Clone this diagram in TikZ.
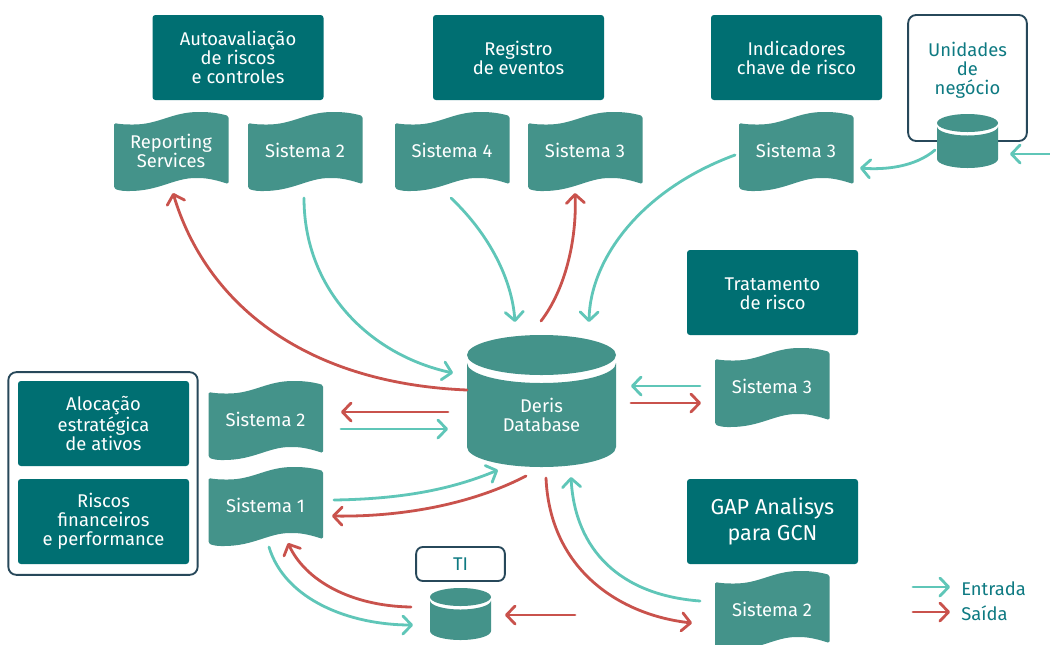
\documentclass[tikz,border=0pt]{standalone}
\usepackage{fontspec}
\setmainfont{Fira Sans}
\usetikzlibrary{arrows.meta}
\definecolor{boxteal}{HTML}{006F72}
\definecolor{docgreen}{HTML}{44938A}
\definecolor{inarrow}{HTML}{5FC6B8}
\definecolor{outarrow}{HTML}{C9524C}
\definecolor{frameblue}{HTML}{27485A}
\definecolor{labelteal}{HTML}{0E7A82}
\tikzset{
  basefont/.style={font=\fontsize{13.8}{14.25}\selectfont,align=center,inner sep=0pt},
  titlebox/.style={basefont,fill=boxteal,text=white,rounded corners=2.2pt,inner sep=0pt,minimum width=128.25pt,minimum height=63.75pt},
  bigtitle/.style={font=\fontsize{16.2}{20}\selectfont},
  framebox/.style={draw=frameblue,line width=1.4pt,rounded corners=6pt,fill=white,inner sep=0pt},
  doctext/.style={basefont,text=white},
  lbl/.style={basefont,text=labelteal},
  docfill/.style={fill=docgreen,rounded corners=1.2pt},
  inflow/.style={draw=inarrow,line width=2.1pt,line cap=round,-{Straight Barb[length=6.5pt,width=13.5pt,line width=2.1pt,round]}},
  outflow/.style={draw=outarrow,line width=2.1pt,line cap=round,-{Straight Barb[length=6.5pt,width=13.5pt,line width=2.1pt,round]}},
}
% name, left x, peak y, text
\newcommand{\wavedoc}[4]{%
  \fill[docfill,shift={(#2,#3)}] (0,12) .. controls (5,13) and (10,13.5) .. (18,13.5) .. controls (45,13.5) and (58,1) .. (86,1) .. controls (98,1) and (108,3) .. (114.5,5)
    -- (114.5,73) .. controls (105,70) and (95,67) .. (83,67) .. controls (60,67) and (45,80) .. (14,80) .. controls (8,80) and (3,79) .. (0,77) -- cycle;
  \node[doctext] (#1) at ([shift={(57,39.5)}]#2,#3) {#4};
}
% name, left, right, top centre y, bottom centre y, ry, gap
\newcommand{\cyl}[7]{%
  \pgfmathsetmacro{\cylrx}{(#3-#2)/2}
  \pgfmathsetmacro{\cylmx}{(#3+#2)/2}
  \pgfmathsetmacro{\cylby}{#4+#7}
  \pgfmathsetmacro{\cylmy}{(#4+#5)/2}
  \fill[docgreen] (\cylmx,#4) ellipse[x radius=\cylrx,y radius=#6];
  \fill[docgreen] (#2,\cylby) arc[start angle=180,end angle=0,x radius=\cylrx,y radius=#6]
     -- (#3,#5) arc[start angle=0,end angle=180,x radius=\cylrx,y radius=#6] -- cycle;
  \coordinate (#1) at (\cylmx,\cylmy);
}
\begin{document}
\begin{tikzpicture}[x=0.75pt,y=-0.75pt]
\path[use as bounding box,clip] (0,0) rectangle (1050,644);
\fill[white] (0,0) rectangle (1050,644);

% frames
\node[framebox,minimum width=142pt,minimum height=152pt] (leftframe) at (103,473.5) {};
\node[framebox,minimum width=89pt,minimum height=94.5pt] (unitframe) at (967.5,78) {};
\node[lbl,anchor=north] (unitlabel) at (967.5,42) {Unidades\\de\\negócio};
\node[framebox,minimum width=66.5pt,minimum height=25.5pt,rounded corners=5pt,text=labelteal,font=\fontsize{13.8}{14.25}\selectfont] (tibox) at (460.5,564) {TI};

% title boxes
\node[titlebox] (auto) at (238,57.5) {Autoavaliação\\de riscos\\e controles};
\node[titlebox] (registro) at (518.5,57.5) {Registro\\de eventos};
\node[titlebox] (indic) at (796.5,57.5) {Indicadores\\chave de risco};
\node[titlebox] (trat) at (772.5,292.5) {};
\node[doctext] (trattext) at (772.5,294) {Tratamento\\de risco};
\node[titlebox,bigtitle] (gap) at (772.5,521.5) {GAP Analisys\\para GCN};
\node[titlebox] (aloc) at (103.5,423.5) {Alocação\\estratégica\\de ativos};
\node[titlebox] (riscos) at (103.5,521.5) {Riscos\\financeiros\\e performance};

% documents
\wavedoc{rs}{114}{111}{Reporting\\Services}
\wavedoc{s2top}{248}{111}{Sistema 2}
\wavedoc{s4}{395}{111}{Sistema 4}
\wavedoc{s3a}{528}{111}{Sistema 3}
\wavedoc{s3b}{739}{111}{Sistema 3}
\wavedoc{s3c}{715}{347}{Sistema 3}
\wavedoc{s2left}{208.5}{380}{Sistema 2}
\wavedoc{s1}{208.5}{466}{Sistema 1}
\wavedoc{s2bot}{715}{570}{Sistema 2}

% cylinders
\cyl{db}{467}{616}{355}{447}{20}{8}
\node[doctext] (dbtext) at (541.5,415) {Deris\\Database};
\cyl{unitdb}{937}{998}{123}{159}{9}{3.5}
\cyl{tidb}{430}{491}{597}{631}{9}{3.5}

% connector ends
\coordinate (a1s) at (467,390);   \coordinate (a1e) at (173,193);
\coordinate (a2s) at (304,198);   \coordinate (a2e) at (453,373);
\coordinate (a3s) at (451,198);   \coordinate (a3e) at (515,322);
\coordinate (a4s) at (541,321);   \coordinate (a4e) at (575,193);
\coordinate (a5s) at (735,155);   \coordinate (a5e) at (589,322);
\coordinate (a6s) at (935,150);   \coordinate (a6e) at (860,168);
\coordinate (a7s) at (1050,154);  \coordinate (a7e) at (1010,154);
\coordinate (a8s) at (700,386);   \coordinate (a8e) at (631,386);
\coordinate (a9s) at (631,403);   \coordinate (a9e) at (701,403);
\coordinate (a10s) at (448,412);  \coordinate (a10e) at (341,412);
\coordinate (a11s) at (341,429);  \coordinate (a11e) at (448,429);
\coordinate (a12s) at (334,500);  \coordinate (a12e) at (498,470);
\coordinate (a13s) at (526,476);  \coordinate (a13e) at (332,516);
\coordinate (a14s) at (269,547);  \coordinate (a14e) at (413,625);
\coordinate (a15s) at (411,607);  \coordinate (a15e) at (288,543);
\coordinate (a16s) at (575,615);  \coordinate (a16e) at (505,615);
\coordinate (a17s) at (546,478);  \coordinate (a17e) at (692,623);
\coordinate (a18s) at (700,601);  \coordinate (a18e) at (571,477);
\coordinate (k1s) at (913,587);   \coordinate (k1e) at (950,587);
\coordinate (k2s) at (913,612);   \coordinate (k2e) at (950,612);

\draw[outflow] (a1s) .. controls (300,383) and (205,300) .. (a1e);
\draw[inflow] (a2s) .. controls (304,290) and (370,355) .. (a2e);
\draw[inflow] (a3s) .. controls (490,235) and (512,280) .. (a3e);
\draw[outflow] (a4s) .. controls (565,290) and (577,240) .. (a4e);
\draw[inflow] (a5s) .. controls (640,190) and (590,260) .. (a5e);
\draw[inflow] (a6s) .. controls (915,167) and (885,170) .. (a6e);
\draw[inflow] (a7s) -- (a7e);
\draw[inflow] (a8s) -- (a8e);
\draw[outflow] (a9s) -- (a9e);
\draw[outflow] (a10s) -- (a10e);
\draw[inflow] (a11s) -- (a11e);
\draw[inflow] (a12s) .. controls (400,499) and (450,490) .. (a12e);
\draw[outflow] (a13s) .. controls (470,505) and (400,517) .. (a13e);
\draw[inflow] (a14s) .. controls (285,600) and (350,625) .. (a14e);
\draw[outflow] (a15s) .. controls (350,606) and (305,580) .. (a15e);
\draw[outflow] (a16s) -- (a16e);
\draw[outflow] (a17s) .. controls (550,570) and (620,615) .. (a17e);
\draw[inflow] (a18s) .. controls (620,595) and (575,550) .. (a18e);

% legend
\draw[inflow] (k1s) -- (k1e);
\draw[outflow] (k2s) -- (k2e);
\node[lbl,anchor=west] (kin) at (961,588.5) {Entrada};
\node[lbl,anchor=west] (kout) at (961,613) {Saída};
\end{tikzpicture}
\end{document}
